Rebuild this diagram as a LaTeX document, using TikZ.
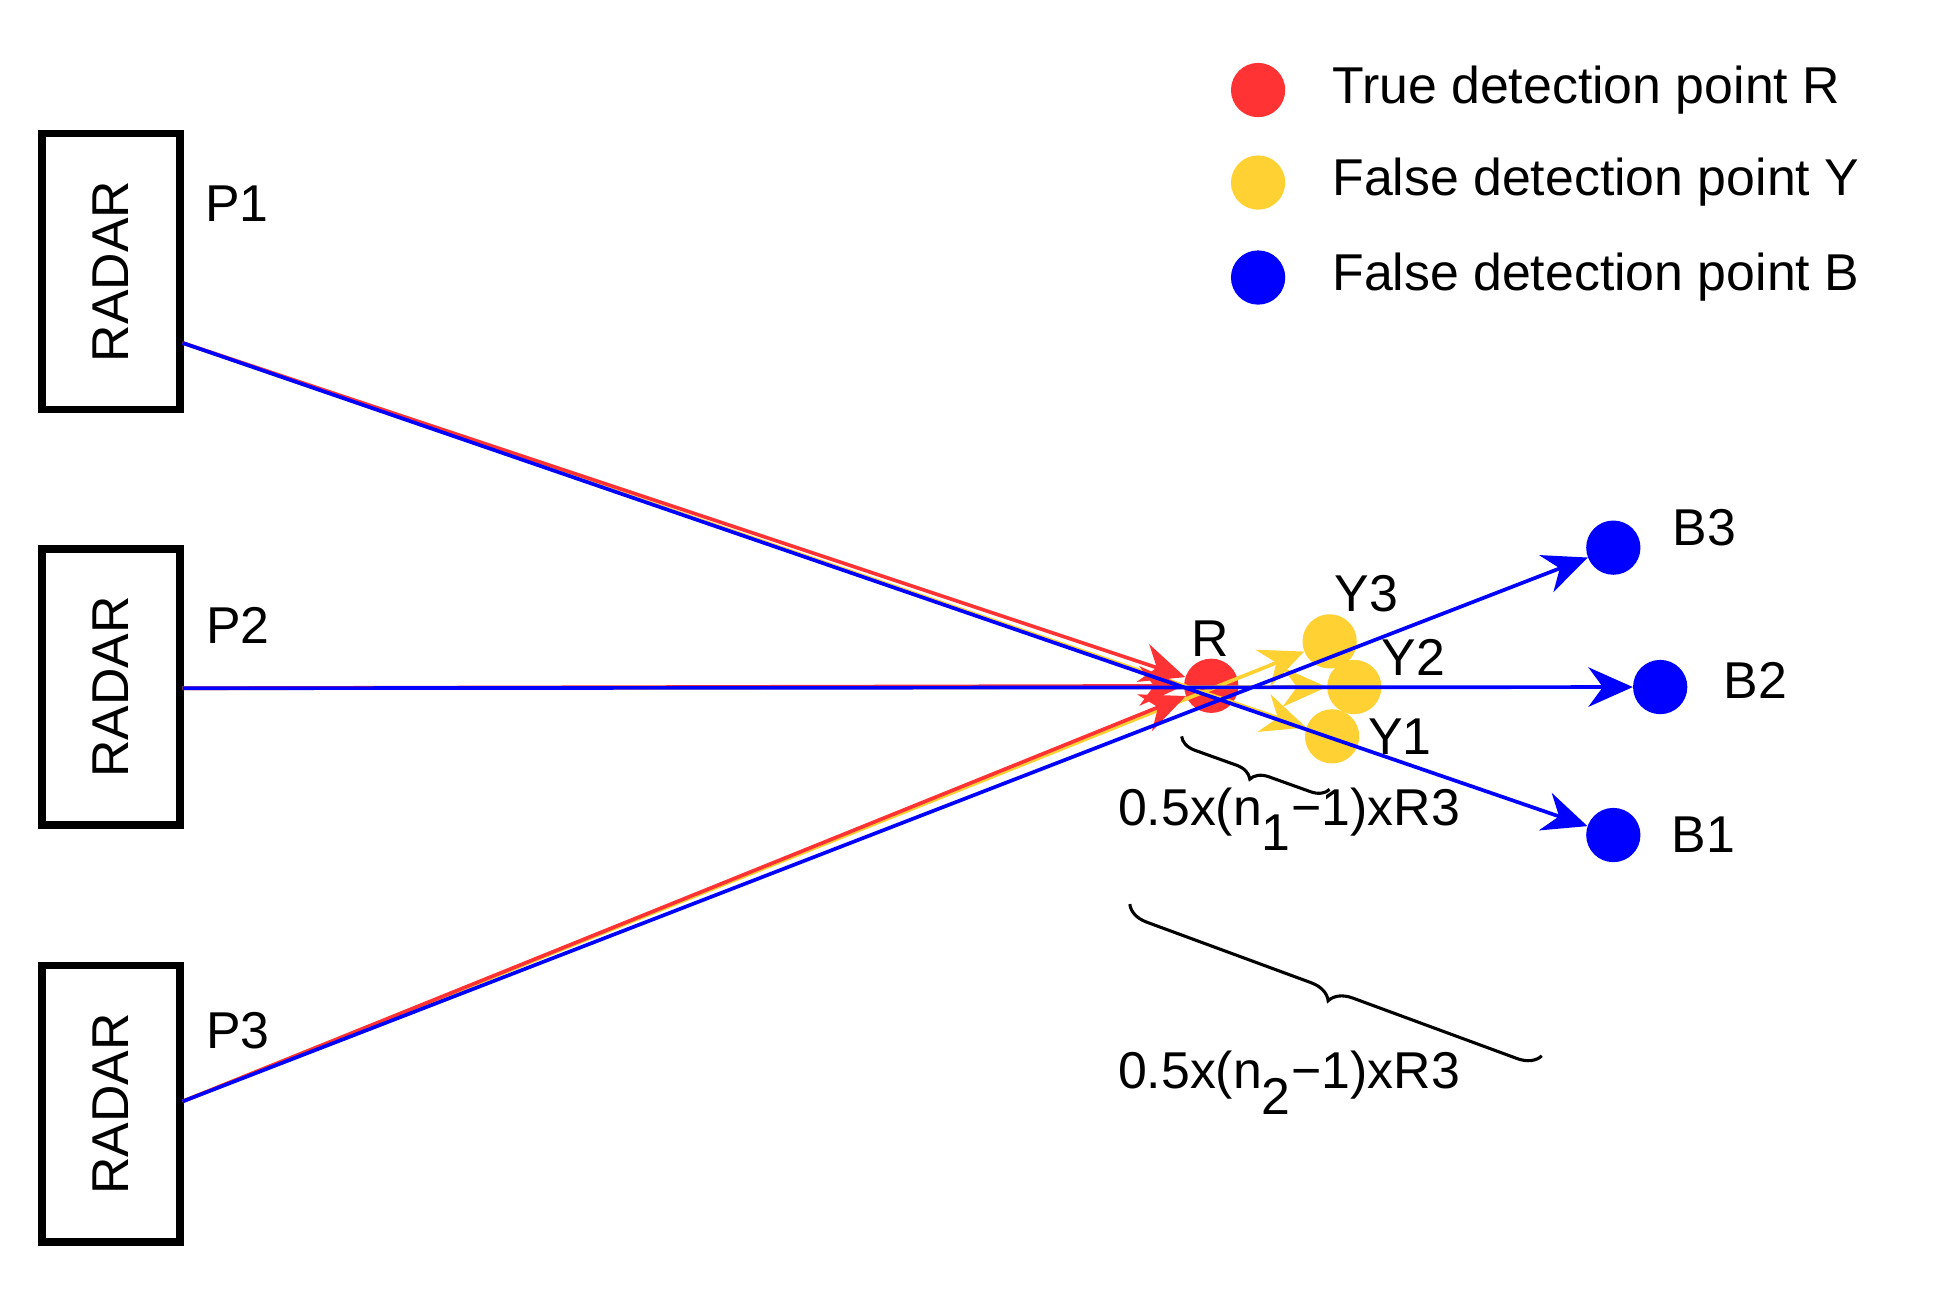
\documentclass[tikz,border=0pt]{standalone}
\usepackage{fontspec}
\setmainfont{Liberation Sans}
\usetikzlibrary{arrows.meta,decorations.pathreplacing}
\definecolor{cred}{RGB}{255,51,51}
\definecolor{cyel}{RGB}{255,209,51}
\definecolor{cblue}{RGB}{0,0,255}
\begin{document}
\begin{tikzpicture}[x=1pt,y=-1pt,
  radar/.style={draw,line width=6pt,minimum width=112pt,minimum height=224pt,inner sep=0},
  lbl/.style={font=\fontsize{42}{46}\selectfont,inner sep=0},
  dot/.style={circle,inner sep=0,minimum size=44pt},
  ln/.style={line width=3pt,-{Stealth[length=36pt,width=32pt]}},
  br/.style={decorate,decoration={brace,amplitude=14pt,mirror},line width=2.5pt}]
\useasboundingbox (0,0) rectangle (1568,1047);
% radars
\node[radar] (r1) at (90,220) {};
\node[lbl,rotate=90] at (r1) {RADAR};
\node[radar] (r2) at (90,557) {};
\node[lbl,rotate=90] at (r2) {RADAR};
\node[radar] (r3) at (90,895) {};
\node[lbl,rotate=90] at (r3) {RADAR};
\node[lbl] at (192,165) {P1};
\node[lbl] at (193,507) {P2};
\node[lbl] at (193,836) {P3};
\coordinate (p1) at (148,278);
\coordinate (p2) at (148,558);
\coordinate (p3) at (148,893);
% points
\node[dot,fill=cyel] (y3) at (1078,520) {};
\node[dot,fill=cyel] (y1) at (1080,597) {};
\node[dot,fill=cyel] (y2) at (1098,557) {};
\node[dot,fill=cred] (R) at (982,556) {};
\node[dot,fill=cblue] (b3) at (1308,444) {};
\node[dot,fill=cblue] (b2) at (1346,557) {};
\node[dot,fill=cblue] (b1) at (1308,677) {};
% yellow
\draw[ln,cyel] (p1) -- (y1);
\draw[ln,cyel] (p2) -- (y2);
\draw[ln,cyel] (p3) -- (y3);
% red
\draw[ln,cred] (p1) -- (R);
\draw[ln,cred] (p2) -- (R);
\draw[ln,cred] (p3) -- (R);
% blue
\draw[ln,cblue] (p1) -- (b1);
\draw[ln,cblue] (p2) -- (b2);
\draw[ln,cblue] (p3) -- (b3);
% labels
\node[lbl] at (981,518) {R};
\node[lbl] at (1108,481) {Y3};
\node[lbl] at (1146,533) {Y2};
\node[lbl] at (1135,597) {Y1};
\node[lbl] at (1382,428) {B3};
\node[lbl] at (1423,552) {B2};
\node[lbl] at (1381,677) {B1};
% braces
\coordinate (a1) at (958,597);
\coordinate (a2) at (1078,640);
\draw[br] (a1) -- (a2);
\coordinate (c1) at (916,733);
\coordinate (c2) at (1250,856);
\draw[br,decoration={amplitude=18pt}] (c1) -- (c2);
\node[lbl] at (1045,664) {0.5x(n$_{\textrm{1}}$−1)xR3};
\node[lbl] at (1045,878) {0.5x(n$_{\textrm{2}}$−1)xR3};
% legend
\node[dot,fill=cred] (l1) at (1020,73) {};
\node[dot,fill=cyel] (l2) at (1020,148) {};
\node[dot,fill=cblue] (l3) at (1020,225) {};
\node[lbl,anchor=west] at (1080,73) {True detection point R};
\node[lbl,anchor=west] at (1080,148) {False detection point Y};
\node[lbl,anchor=west] at (1080,225) {False detection point B};
\end{tikzpicture}
\end{document}
